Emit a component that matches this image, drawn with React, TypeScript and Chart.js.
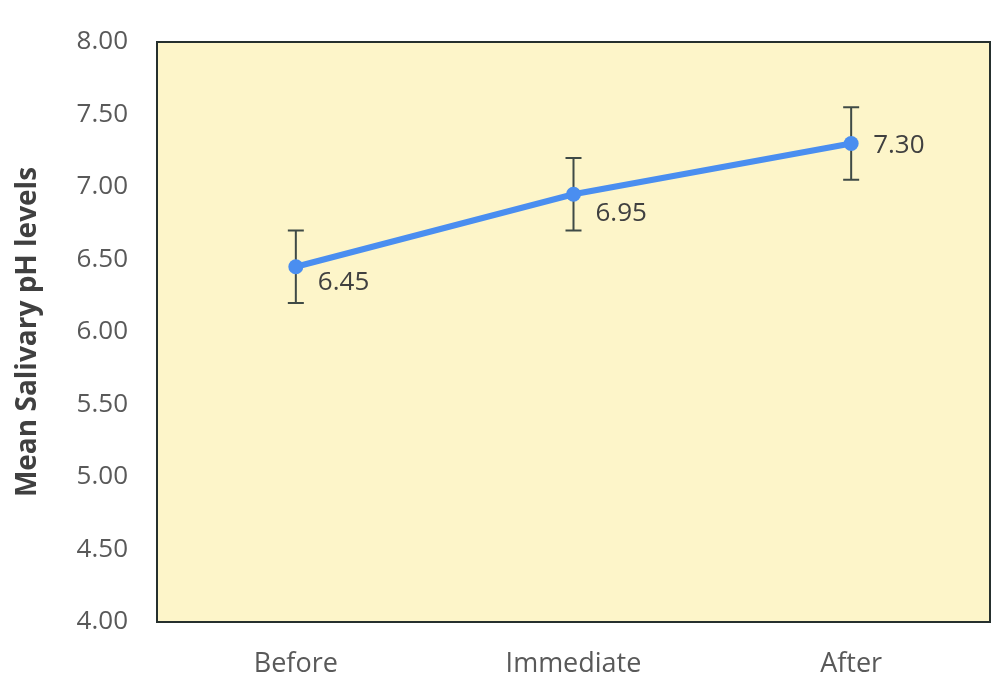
import React, { useEffect, useRef } from "react";
import { Chart, registerables } from "chart.js";

Chart.register(...registerables);

const categories = ["Before", "Immediate", "After"];
const meanValues = [6.45, 6.95, 7.3];
const errorValues = [0.25, 0.25, 0.25];
const valueLabels = ["6.45", "6.95", "7.30"];
const yTitle = "Mean Salivary pH levels";

const FONT = "'Open Sans', 'Noto Sans', sans-serif";

const decorPlugin = {
  id: "decor",
  beforeDraw(chart: any) {
    const { ctx, chartArea } = chart;
    ctx.save();
    ctx.fillStyle = "#fdf5c9";
    ctx.fillRect(chartArea.left, chartArea.top, chartArea.right - chartArea.left, chartArea.bottom - chartArea.top);
    ctx.restore();
  },
  afterDatasetsDraw(chart: any) {
    const { ctx } = chart;
    const xs = chart.scales.x;
    const ys = chart.scales.y;
    ctx.save();
    ctx.strokeStyle = "#3f4a46";
    ctx.lineWidth = 2;
    meanValues.forEach((v, i) => {
      const x = xs.getPixelForValue(i);
      const yHi = ys.getPixelForValue(v + errorValues[i]);
      const yLo = ys.getPixelForValue(v - errorValues[i]);
      ctx.beginPath();
      ctx.moveTo(x, yHi);
      ctx.lineTo(x, yLo);
      ctx.moveTo(x - 8, yHi);
      ctx.lineTo(x + 8, yHi);
      ctx.moveTo(x - 8, yLo);
      ctx.lineTo(x + 8, yLo);
      ctx.stroke();
    });
    ctx.restore();
  },
  afterDraw(chart: any) {
    const { ctx, chartArea } = chart;
    const xs = chart.scales.x;
    const ys = chart.scales.y;
    ctx.save();
    const meta = chart.getDatasetMeta(0);
    ctx.strokeStyle = "#4a8ef0";
    ctx.lineWidth = 6;
    ctx.lineCap = "round";
    ctx.beginPath();
    meta.data.forEach((p: any, i: number) => {
      if (i === 0) ctx.moveTo(p.x, p.y);
      else ctx.lineTo(p.x, p.y);
    });
    ctx.stroke();
    ctx.fillStyle = "#4a8ef0";
    meta.data.forEach((p: any) => {
      ctx.beginPath();
      ctx.arc(p.x, p.y, 7.5, 0, Math.PI * 2);
      ctx.fill();
    });
    ctx.fillStyle = "#404040";
    ctx.font = `26px ${FONT}`;
    ctx.textAlign = "left";
    ctx.textBaseline = "middle";
    const dy = [16, 19, 2];
    meanValues.forEach((v, i) => {
      const x = xs.getPixelForValue(i);
      const y = ys.getPixelForValue(v);
      ctx.fillText(valueLabels[i], x + 22, y + dy[i]);
    });
    ctx.strokeStyle = "#26302e";
    ctx.lineWidth = 2;
    ctx.strokeRect(chartArea.left, chartArea.top, chartArea.right - chartArea.left, chartArea.bottom - chartArea.top);
    ctx.translate(28, (chartArea.top + chartArea.bottom) / 2);
    ctx.rotate(-Math.PI / 2);
    ctx.textAlign = "center";
    ctx.fillStyle = "#404040";
    ctx.font = `bold 28px ${FONT}`;
    ctx.fillText(yTitle, 0, 0);
    ctx.restore();
  },
};

export default function App() {
  const canvasRef = useRef<HTMLCanvasElement>(null);
  useEffect(() => {
    const canvas = canvasRef.current;
    if (!canvas) return;
    const chart = new Chart(canvas, {
      type: "line",
      data: {
        labels: categories,
        datasets: [
          {
            data: meanValues,
            borderColor: "rgba(0,0,0,0)",
            backgroundColor: "rgba(0,0,0,0)",
            pointRadius: 0,
          },
        ],
      },
      options: {
        animation: false,
        responsive: false,
        devicePixelRatio: 1,
        layout: { padding: { top: 42, right: 10, left: 0, bottom: 0 } },
        plugins: { legend: { display: false }, tooltip: { enabled: false } },
        scales: {
          x: {
            offset: true,
            grid: { display: false, drawTicks: false },
            border: { display: false },
            ticks: { color: "#595959", font: { family: FONT, size: 27 }, padding: 26 },
            afterFit(scale: any) {
              scale.height = 56;
              scale.paddingLeft = 0;
              scale.paddingRight = 0;
            },
          },
          y: {
            min: 4,
            max: 8,
            grid: { display: false, drawTicks: false },
            border: { display: false },
            ticks: {
              stepSize: 0.5,
              color: "#595959",
              font: { family: FONT, size: 26 },
              padding: 29,
              callback: (v: any) => Number(v).toFixed(2),
            },
            afterFit(scale: any) {
              scale.width = 157;
              scale.paddingTop = 0;
              scale.paddingBottom = 0;
            },
          },
        },
      },
      plugins: [decorPlugin],
    });
    return () => chart.destroy();
  }, []);
  return (
    <div style={{ position: "fixed", left: 0, top: 0, width: 1000, height: 678, background: "#fff" }}>
      <canvas ref={canvasRef} width={1000} height={678} style={{ width: 1000, height: 678 }} />
    </div>
  );
}
